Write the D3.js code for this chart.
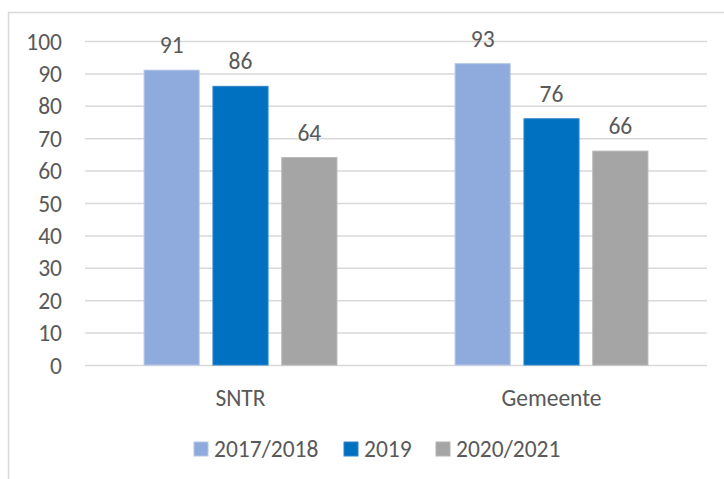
<!DOCTYPE html>
<html>
<head>
<meta charset="utf-8">
<script src="https://cdn.jsdelivr.net/npm/d3@7"></script>
<style>
  html, body { margin: 0; padding: 0; background: #fff; }
</style>
</head>
<body>
<svg id="chart" width="724" height="479"></svg>
<script>
// Survey scores per group and year
const categories = ["SNTR", "Gemeente"];
const seriesNames = ["2017/2018", "2019", "2020/2021"];
const valuesSNTR = [91, 86, 64];
const valuesGemeente = [93, 76, 66];
const yTicks = [0, 10, 20, 30, 40, 50, 60, 70, 80, 90, 100];

const colors = ["#8faadc", "#0070c0", "#a5a5a5"];
const strokes = ["#b4c7e7", "#2f84c9", "#b3b3b3"];

// Prefer Carlito (Calibri metrics) when installed, otherwise Open Sans slightly smaller
function hasFont(name) {
  const c = document.createElement("canvas").getContext("2d");
  const sample = "2017/2018 Gemeente";
  c.font = "20px monospace";
  const base = c.measureText(sample).width;
  c.font = `20px "${name}", monospace`;
  return c.measureText(sample).width !== base;
}
const useCarlito = hasFont("Carlito");
const FONT = useCarlito ? "Carlito, 'Open Sans', sans-serif" : "'Open Sans', 'Noto Sans', sans-serif";
const FS = useCarlito ? "23.5px" : "21.5px";
const TXT = "#595959";

const rows = [valuesSNTR, valuesGemeente].map((vals, i) => ({
  category: categories[i],
  values: vals.map((v, j) => ({ series: seriesNames[j], value: v, idx: j }))
}));

const svg = d3.select("#chart");
const W = 724, H = 479;
const plot = { left: 85, right: 707, top: 41, bottom: 365 };

// chart frame
svg.append("rect")
  .attr("x", 8.5).attr("y", 12.5)
  .attr("width", W + 20).attr("height", H + 20)
  .attr("fill", "none").attr("stroke", "#d9d9d9").attr("stroke-width", 1.5);

const y = d3.scaleLinear().domain([0, 100]).range([plot.bottom, plot.top]);
const x0 = d3.scaleBand().domain(categories).range([plot.left, plot.right]).padding(0);
const groupW = x0.bandwidth() * 0.62;
const x1 = d3.scaleBand().domain(seriesNames).range([0, groupW]).paddingInner(0.2).paddingOuter(0);
const groupOffset = (x0.bandwidth() - groupW) / 2;

function styleText(sel) {
  sel.attr("fill", TXT).style("font-family", FONT).style("font-size", FS);
}

// gridlines and y labels
const yAxis = d3.axisLeft(y).tickValues(yTicks).tickSize(-(plot.right - plot.left)).tickPadding(23);
const gy = svg.append("g").attr("transform", `translate(${plot.left},0)`).call(yAxis);
gy.select(".domain").remove();
gy.selectAll(".tick line").attr("stroke", "#d9d9d9").attr("stroke-width", 1.5);
gy.selectAll(".tick text").call(styleText).attr("dy", "0.34em");

// bars
const groups = svg.append("g").selectAll("g").data(rows).join("g")
  .attr("transform", d => `translate(${x0(d.category) + groupOffset},0)`);

groups.selectAll("rect").data(d => d.values).join("rect")
  .attr("x", d => x1(d.series))
  .attr("y", d => y(d.value))
  .attr("width", x1.bandwidth())
  .attr("height", d => y(0) - y(d.value))
  .attr("fill", d => colors[d.idx])
  .attr("stroke", d => strokes[d.idx])
  .attr("stroke-width", 1);

// value labels
groups.selectAll("text.val").data(d => d.values).join("text")
  .attr("class", "val")
  .attr("x", d => x1(d.series) + x1.bandwidth() / 2)
  .attr("y", d => y(d.value) - 17)
  .attr("text-anchor", "middle")
  .call(styleText)
  .text(d => d.value);

// category labels
const xAxis = d3.axisBottom(x0).tickSize(0).tickPadding(24);
const gx = svg.append("g").attr("transform", `translate(0,${plot.bottom})`).call(xAxis);
gx.select(".domain").remove();
gx.selectAll(".tick text").call(styleText);

// legend
const legendItems = [
  { name: seriesNames[0], sx: 194 },
  { name: seriesNames[1], sx: 344 },
  { name: seriesNames[2], sx: 436 }
];
const lg = svg.append("g").selectAll("g").data(legendItems).join("g")
  .attr("transform", d => `translate(${d.sx},449)`);
lg.append("rect")
  .attr("x", 0).attr("y", -7).attr("width", 14).attr("height", 14)
  .attr("fill", (d, i) => colors[i])
  .attr("stroke", (d, i) => strokes[i]).attr("stroke-width", 1);
lg.append("text")
  .attr("x", 20).attr("y", 0).attr("dy", "0.35em")
  .call(styleText)
  .text(d => d.name);
</script>
</body>
</html>
